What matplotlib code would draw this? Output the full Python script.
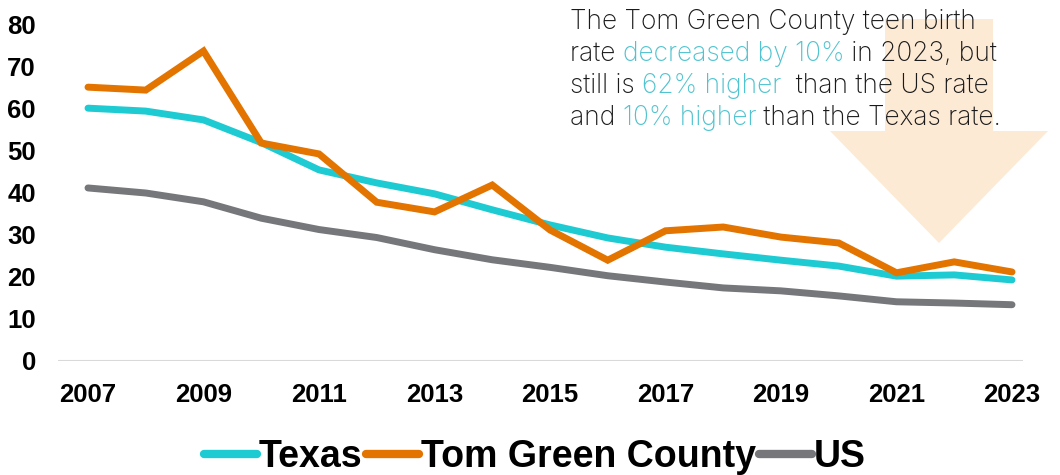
import numpy as np
import matplotlib as mpl
mpl.use("Agg")
import matplotlib.pyplot as plt
from matplotlib.patches import Polygon
from matplotlib.lines import Line2D

years = list(range(2007, 2024))
texas = [60.2, 59.5, 57.4, 52.0, 45.5, 42.4, 39.8, 36.0, 32.4, 29.3, 27.1, 25.5, 24.0, 22.6, 20.2, 20.5, 19.3]
tom_green = [65.2, 64.5, 73.8, 51.9, 49.3, 37.8, 35.5, 41.9, 31.2, 24.0, 31.0, 31.9, 29.5, 28.1, 21.0, 23.6, 21.2]
us = [41.2, 40.0, 37.9, 34.0, 31.3, 29.4, 26.5, 24.1, 22.3, 20.3, 18.8, 17.4, 16.7, 15.5, 14.1, 13.8, 13.4]
xticks = list(range(2007, 2024, 2))
yticks = list(range(0, 90, 10))

c_texas = "#1FCBD3"
c_tom = "#E37400"
c_us = "#76777B"
c_hl = "#4FC3CF"

W, H = 1060, 475
fig = plt.figure(figsize=(W / 100, H / 100), dpi=100)

def px(x, y):
    return (x / W, 1 - y / H)

# big pale arrow in the background
arrow_pts = [px(885, 19), px(993, 19), px(993, 131), px(1048, 131),
             px(939, 243), px(830, 131), px(885, 131)]
fig.patches.append(Polygon(arrow_pts, closed=True, transform=fig.transFigure,
                           facecolor="#FDEAD4", edgecolor="none", zorder=0.5))

left, right = 58 / W, 1023 / W
bottom, top = 1 - 361 / H, 1 - 25 / H
ax = fig.add_axes([left, bottom, right - left, top - bottom])
ax.set_zorder(1)
ax.set_facecolor("none")

lw = 5
kw = dict(lw=lw, solid_capstyle="round", solid_joinstyle="miter")
ax.plot(years, us, color=c_us, label="US", **kw)
ax.plot(years, texas, color=c_texas, label="Texas", **kw)
ax.plot(years, tom_green, color=c_tom, label="Tom Green County", **kw)

ax.set_xlim(2007 - 30 / 57.75, 2023 + 11 / 57.75)
ax.set_ylim(0, 80)
ax.set_xticks(xticks)
ax.set_yticks(yticks)
for s in ax.spines.values():
    s.set_visible(False)
ax.axhline(0, color="#D9D9D9", lw=1.5, zorder=0)
ax.tick_params(length=0)
ax.tick_params(axis="x", pad=16)
ax.tick_params(axis="y", pad=16)
for lab in ax.get_xticklabels() + ax.get_yticklabels():
    lab.set_fontfamily("Liberation Sans")
    lab.set_fontweight("bold")
    lab.set_fontsize(18.5)

handles = [Line2D([], [], color=c, lw=6, solid_capstyle="round") for c in (c_texas, c_tom, c_us)]
leg = fig.legend(handles, ["Texas", "Tom Green County", "US"], loc="center",
                 bbox_to_anchor=(535 / W, 1 - 457 / H), ncol=3, frameon=False,
                 handlelength=1.4, handletextpad=0.05, columnspacing=0.1,
                 prop={"family": "Liberation Sans", "weight": "bold", "size": 27})

# annotation text with coloured pieces
lines = [
    [("The Tom Green County teen birth", "#1A1A1A")],
    [("rate ", "#1A1A1A"), ("decreased by 10%", c_hl), (" in 2023, but", "#1A1A1A")],
    [("still is ", "#1A1A1A"), ("62% higher", c_hl), ("  than the US rate", "#1A1A1A")],
    [("and ", "#1A1A1A"), ("10% higher", c_hl), (" than the Texas rate.", "#1A1A1A")],
]
renderer = fig.canvas.get_renderer()
for i, parts in enumerate(lines):
    x = 570
    y = 29 + i * 32
    for txt, col in parts:
        t = fig.text(x / W, 1 - y / H, txt, color=col, fontsize=19,
                     family="Inter", weight="light", va="baseline", ha="left", zorder=5)
        bb = t.get_window_extent(renderer)
        x += bb.width

fig.savefig("out.png", dpi=100)
